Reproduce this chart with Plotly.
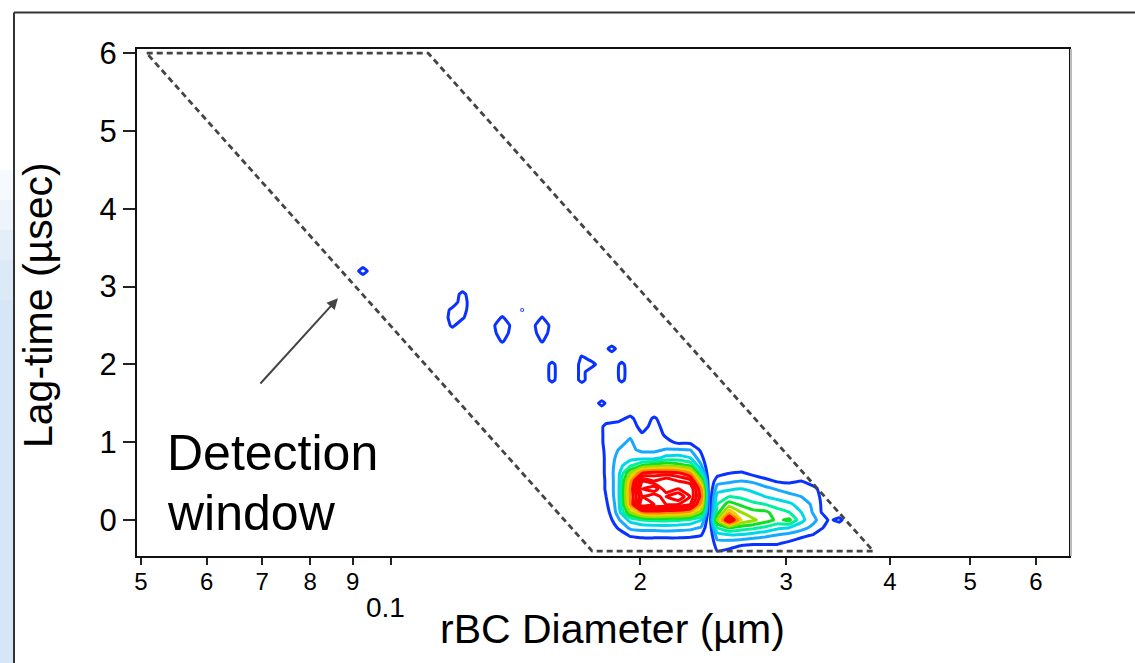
import numpy as np
import plotly.graph_objects as go

# ---------------- data ----------------
# main clusters: 2-D histogram of lag-time vs rBC diameter
cluster_x = [0.17498, 0.18191, 0.18809, 0.19446, 0.20105, 0.20787, 0.21491, 0.22220,
             0.22974, 0.23687, 0.24219, 0.24763, 0.25602, 0.26470, 0.27368, 0.28295,
             0.29254, 0.30245, 0.31271, 0.32331, 0.33876, 0.34751, 0.35730]
cluster_y = [-0.5, -0.4, -0.3, -0.2, -0.1, 0.0, 0.1, 0.2, 0.3, 0.4, 0.5,
             0.6, 0.7, 0.8, 0.9, 1.0, 1.1, 1.2, 1.3, 1.4, 1.5]
cluster_z = [
    [0, 0, 0, 0, 0, 0, 0, 0, 0, 0, 0, 0, 0, 0, 0, 0, 0, 0, 0, 0, 0, 0, 0],
    [0, 0, 0, 0, 0, 0, 0, 0, 0, 0, 0, 1.0, 0.8, 0.5, 0.4, 0.5, 0.4, 0.2, 0, 0, 0, 0, 0],
    [0, 0, 0, 0.2, 0.3, 0.3, 0.3, 0.3, 0.3, 0.2, 0, 1.6, 1.5, 1.2, 1.1, 1.1, 1.1, 0.8, 0.5, 0.3, 0, 0, 0],
    [0, 0, 0.3, 1.1, 1.3, 1.3, 1.3, 1.3, 1.2, 1.0, 0, 2.5, 2.8, 2.8, 2.5, 2.2, 1.9, 1.6, 1.2, 0.9, 0, 0, 0],
    [0, 0, 1.1, 2.2, 2.4, 2.4, 2.5, 2.4, 2.3, 1.9, 0, 4.0, 5.0, 4.5, 4.2, 3.8, 3.2, 3.0, 2.4, 1.7, 0.5, 0, 0],
    [0, 0.2, 1.8, 3.3, 4.0, 4.2, 4.2, 4.1, 3.8, 3.0, 0, 6.0, 10.5, 7.0, 6.2, 5.5, 4.8, 5.2, 3.3, 2.3, 0.8, 1.4, 0],
    [0, 0.5, 2.4, 6.0, 8.0, 8.5, 8.2, 8.0, 7.5, 5.5, 0, 4.5, 7.5, 6.0, 5.3, 5.2, 4.5, 4.0, 3.0, 1.9, 0, 0, 0],
    [0, 0.8, 2.5, 7.8, 13, 12, 12, 12, 11, 7.5, 0, 4.0, 5.5, 4.8, 4.3, 4.0, 3.5, 3.2, 2.6, 1.8, 0, 0, 0],
    [0, 1.0, 2.6, 8.0, 12, 11, 13, 14, 12, 8.5, 0, 3.5, 4.0, 3.8, 3.3, 3.0, 2.7, 2.3, 2.0, 1.6, 0, 0, 0],
    [0, 1.1, 2.6, 8.0, 13, 14, 11, 12, 12, 8.0, 0, 2.5, 2.8, 3.0, 2.8, 2.3, 1.9, 1.6, 1.6, 1.3, 0, 0, 0],
    [0, 1.1, 2.6, 7.5, 12, 11, 12, 11, 10.5, 6.0, 0, 1.6, 1.8, 2.0, 1.8, 1.3, 0.9, 0.8, 1.0, 0.5, 0, 0, 0],
    [0, 1.15, 2.6, 6.0, 9.0, 9.5, 9.5, 9.3, 8.0, 3.5, 0, 0.6, 1.0, 1.2, 0.7, 0.4, 0.2, 0.1, 0, 0, 0, 0, 0],
    [0, 1.15, 2.5, 3.8, 5.0, 5.5, 5.8, 5.5, 4.8, 2.1, 0, 0, 0, 0, 0, 0, 0, 0, 0, 0, 0, 0, 0],
    [0, 1.15, 2.3, 2.6, 2.6, 2.6, 3.3, 3.4, 3.0, 1.3, 0, 0, 0, 0, 0, 0, 0, 0, 0, 0, 0, 0, 0],
    [0, 1.2, 2.0, 2.2, 1.8, 1.8, 2.1, 2.1, 2.0, 0.8, 0, 0, 0, 0, 0, 0, 0, 0, 0, 0, 0, 0, 0],
    [0, 1.3, 1.8, 2.1, 1.6, 1.7, 1.3, 0.8, 0.8, 0.4, 0, 0, 0, 0, 0, 0, 0, 0, 0, 0, 0, 0, 0],
    [0, 1.3, 1.7, 1.9, 1.1, 1.6, 0.8, 0.5, 0.5, 0.2, 0, 0, 0, 0, 0, 0, 0, 0, 0, 0, 0, 0, 0],
    [0, 1.3, 1.5, 1.6, 0.6, 1.4, 0.6, 0.2, 0.2, 0, 0, 0, 0, 0, 0, 0, 0, 0, 0, 0, 0, 0, 0],
    [0, 0.5, 0.7, 1.3, 0.3, 1.2, 0.3, 0, 0, 0, 0, 0, 0, 0, 0, 0, 0, 0, 0, 0, 0, 0, 0],
    [0, 0, 0, 0.5, 0, 0.4, 0, 0, 0, 0, 0, 0, 0, 0, 0, 0, 0, 0, 0, 0, 0, 0, 0],
    [0, 0, 0, 0, 0, 0, 0, 0, 0, 0, 0, 0, 0, 0, 0, 0, 0, 0, 0, 0, 0, 0, 0],
]

# scattered low-count cells along the diagonal
spot_grid_x = [0.08763, 0.09008, 0.09260, 0.09520, 0.09787, 0.10061, 0.10343, 0.10632,
               0.10930, 0.11237, 0.11551, 0.11875, 0.12208, 0.12550, 0.12901, 0.13263,
               0.13634, 0.14016, 0.14409, 0.14812, 0.15228, 0.15654, 0.16093, 0.16544,
               0.17007, 0.17484, 0.17973, 0.18477, 0.18995, 0.19527, 0.20074]
spot_grid_y = [1.2, 1.3, 1.4, 1.5, 1.6, 1.7, 1.8, 1.9, 2.0, 2.1, 2.2, 2.3,
               2.4, 2.5, 2.6, 2.7, 2.8, 2.9, 3.0, 3.1, 3.2, 3.3, 3.4, 3.5]
spot_x = [0.09260, 0.11875, 0.11875, 0.11875, 0.12208, 0.12208, 0.12208, 0.12208,
          0.13634, 0.13634, 0.13634, 0.13634, 0.14409, 0.15228, 0.15228, 0.15228, 0.15228,
          0.15654, 0.15654, 0.15654, 0.17007, 0.17007, 0.17007, 0.17007, 0.17484,
          0.18477, 0.18995, 0.18995, 0.18995, 0.17973]
spot_y = [3.2, 2.5, 2.6, 2.7, 2.6, 2.7, 2.8, 2.9,
          2.3, 2.4, 2.5, 2.6, 2.7, 2.3, 2.4, 2.5, 2.6,
          1.8, 1.9, 2.0, 1.8, 1.9, 2.0, 2.1, 2.0,
          2.2, 1.8, 1.9, 2.0, 1.5]
spot_z = [1.8, 1.3, 1.8, 1.5, 1.2, 1.7, 1.9, 1.5,
          1.2, 2.5, 4.0, 1.2, 1.05, 1.15, 2.2, 3.2, 1.1,
          1.4, 1.5, 1.4, 1.5, 1.5, 1.5, 1.1, 1.6,
          1.6, 1.35, 1.5, 1.35, 1.5]

# detection window (dashed parallelogram)
window_x = [0.0508, 0.111, 0.382, 0.175, 0.0508]
window_y = [6.0, 6.0, -0.40, -0.40, 6.0]

# arrow pointing at the window edge
arrow_tail = (0.0694, 1.735)
arrow_head = (0.0864, 2.85)

x_tickvals = [0.05, 0.06, 0.07, 0.08, 0.09, 0.1, 0.2, 0.3, 0.4, 0.5, 0.6]
x_ticktext = ['5', '6', '7', '8', '9', '', '2', '3', '4', '5', '6']
y_tickvals = [0, 1, 2, 3, 4, 5, 6]

# ---------------- build ----------------
zs = np.zeros((len(spot_grid_y), len(spot_grid_x)))
lgx = np.log10(spot_grid_x)
for sx, sy, sz in zip(spot_x, spot_y, spot_z):
    ix = int(np.argmin(np.abs(lgx - np.log10(sx))))
    iy = int(np.argmin(np.abs(np.array(spot_grid_y) - sy)))
    zs[iy, ix] = sz

level_colors = ['#0a32ff', '#18a8ff', '#00d8e8', '#00f0a0', '#10e020',
                '#98e000', '#f0d000', '#ff8c00', '#ff0000']
n_levels = 13  # contour levels 1..13
cscale = []
for i, c in enumerate(level_colors):
    cscale.append([i / (n_levels - 1), c])
cscale.append([1.0, '#ff0000'])

fig = go.Figure()

fig.add_trace(go.Scatter(x=window_x, y=window_y, mode='lines',
                         line=dict(color='#444444', width=2.8, dash='6px,4px'),
                         hoverinfo='skip', showlegend=False))

fig.add_trace(go.Contour(x=cluster_x, y=cluster_y, z=cluster_z,
                         autocontour=False,
                         contours=dict(start=1, end=n_levels, size=1, coloring='lines'),
                         colorscale=cscale, showscale=False,
                         line=dict(width=3, smoothing=0.3)))

fig.add_trace(go.Contour(x=spot_grid_x, y=spot_grid_y, z=zs,
                         autocontour=False,
                         contours=dict(start=1, end=1, size=1, coloring='none'),
                         showscale=False,
                         line=dict(width=3, color='#0a32ff', smoothing=0.3)))

W, H = 1135, 663
L, R, T, B = 137, 66, 49, 107
pw, ph = W - L - R, H - T - B

def px2paper_x(px):
    return (px - L) / pw

def py2paper_y(py):
    return (H - B - py) / ph

font = 'Liberation Sans'

fig.update_layout(
    width=W, height=H,
    margin=dict(l=L, r=R, t=T, b=B, autoexpand=False),
    paper_bgcolor='white', plot_bgcolor='white',
    showlegend=False,
    xaxis=dict(type='log', range=[np.log10(0.04945), np.log10(0.6577)],
               tickvals=x_tickvals, ticktext=x_ticktext,
               ticks='outside', ticklen=7, tickwidth=1.5, tickcolor='#222',
               ticklabelstandoff=-4,
               showline=True, linecolor='#111', linewidth=2, mirror=True,
               showgrid=False, zeroline=False,
               tickfont=dict(family=font, size=24, color='black')),
    yaxis=dict(range=[-0.463, 6.054], tickvals=y_tickvals,
               ticks='outside', ticklen=12, tickwidth=1.5, tickcolor='#222',
               showline=True, linecolor='#111', linewidth=2, mirror=True,
               showgrid=False, zeroline=False,
               tickfont=dict(family=font, size=31, color='black')),
)

annotations = [
    dict(text='rBC Diameter (µm)', xref='paper', yref='paper',
         x=px2paper_x(612), y=py2paper_y(629), showarrow=False,
         xanchor='center', yanchor='middle',
         font=dict(family=font, size=41, color='black')),
    dict(text='Lag-time (µsec)', xref='paper', yref='paper',
         x=px2paper_x(38), y=py2paper_y(305), showarrow=False, textangle=-90,
         xanchor='center', yanchor='middle',
         font=dict(family=font, size=41, color='black')),
    dict(text='0.1', xref='paper', yref='paper',
         x=px2paper_x(385), y=py2paper_y(607), showarrow=False,
         xanchor='center', yanchor='middle',
         font=dict(family=font, size=28, color='black')),
    dict(text='Detection', xref='x', yref='y',
         x=np.log10(0.0534), y=0.86, showarrow=False,
         xanchor='left', yanchor='middle',
         font=dict(family=font, size=50, color='black')),
    dict(text='window', xref='x', yref='y',
         x=np.log10(0.0534), y=0.09, showarrow=False,
         xanchor='left', yanchor='middle',
         font=dict(family=font, size=50, color='black')),
    dict(text='', xref='x', yref='y', axref='x', ayref='y',
         x=np.log10(arrow_head[0]), y=arrow_head[1],
         ax=np.log10(arrow_tail[0]), ay=arrow_tail[1],
         showarrow=True, arrowhead=2, arrowsize=1.1, arrowwidth=2,
         arrowcolor='#444444'),
]
fig.update_layout(annotations=annotations)

# slide background: light blue strip on the left and thin frame
shapes = []
bands = [(170, 200, '#f6f9fd'), (200, 230, '#eef4fb'), (230, 260, '#e4eef9'),
         (260, 300, '#dceaf7'), (300, 663, '#d6e6f6')]
for y0, y1, col in bands:
    shapes.append(dict(type='rect', xref='paper', yref='paper',
                       x0=px2paper_x(0), x1=px2paper_x(13),
                       y0=py2paper_y(y1), y1=py2paper_y(y0),
                       fillcolor=col, line=dict(width=0), layer='below'))
shapes.append(dict(type='line', xref='paper', yref='paper',
                   x0=px2paper_x(14), x1=px2paper_x(1136),
                   y0=py2paper_y(12.5), y1=py2paper_y(12.5),
                   line=dict(color='#333', width=2)))
shapes.append(dict(type='line', xref='paper', yref='paper',
                   x0=px2paper_x(14), x1=px2paper_x(14),
                   y0=py2paper_y(12.5), y1=py2paper_y(664),
                   line=dict(color='#333', width=2)))
shapes.append(dict(type='line', xref='paper', yref='paper',
                   x0=px2paper_x(1071), x1=px2paper_x(1071),
                   y0=0, y1=1, line=dict(color='#bbbbbb', width=2)))
fig.update_layout(shapes=shapes)

fig.write_html('out.html')
